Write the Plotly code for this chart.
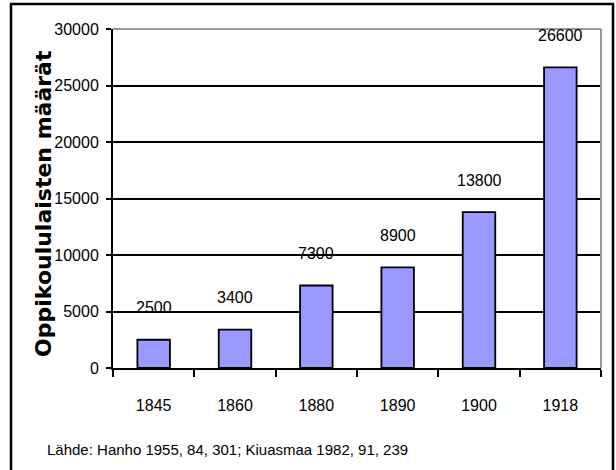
import plotly.graph_objects as go

# Oppikoululaisten määrät vuosittain
years = ["1845", "1860", "1880", "1890", "1900", "1918"]
pupils = [2500, 3400, 7300, 8900, 13800, 26600]
y_ticks = [0, 5000, 10000, 15000, 20000, 25000, 30000]

axis_title = "Oppikoululaisten määrät"
source_note = "Lähde: Hanho 1955, 84, 301; Kiuasmaa 1982, 91, 239"

sans = "Liberation Sans, Arial, sans-serif"

fig = go.Figure()
fig.add_trace(go.Bar(
    x=years,
    y=pupils,
    marker=dict(color="#9999FF", line=dict(color="black", width=1.8)),
    width=0.4,
    hoverinfo="x+y",
))

# value labels sitting above each bar (x given as category index)
for i, val in enumerate(pupils):
    fig.add_annotation(
        x=i, y=val, text=str(val), showarrow=False,
        xanchor="center", yanchor="middle", yshift=32,
        font=dict(family=sans, size=16, color="black"),
    )

# rotated axis title
fig.add_annotation(
    xref="paper", yref="paper", x=-0.1414, y=0.487,
    text="<b>%s</b>" % axis_title, textangle=-90, showarrow=False,
    xanchor="center", yanchor="middle",
    font=dict(family="DejaVu Sans, Verdana, sans-serif", size=22, color="black"),
)

# source line under the chart
fig.add_annotation(
    xref="paper", yref="paper", x=-0.139, y=-0.239,
    text=source_note, showarrow=False, xanchor="left", yanchor="middle",
    font=dict(family=sans, size=15, color="black"),
)

# grey frame on top and right of the plot area
fig.add_shape(type="line", xref="paper", yref="paper", x0=0, x1=1, y0=1, y1=1,
              line=dict(color="#999999", width=2), layer="above")
fig.add_shape(type="line", xref="paper", yref="paper", x0=1, x1=1, y0=0, y1=1,
              line=dict(color="#999999", width=2), layer="above")

# outer black box around the whole chart
fig.add_shape(type="rect", xref="paper", yref="paper",
              x0=-0.209, x1=1.0246, y0=-0.32, y1=1.0737,
              line=dict(color="black", width=2.5), fillcolor="rgba(0,0,0,0)",
              layer="above")

fig.update_xaxes(
    type="category", range=[-0.5, len(years) - 0.5],
    showline=True, linecolor="black", linewidth=2,
    ticks="outside", tickson="boundaries", ticklen=7, tickwidth=1.5, tickcolor="black",
    ticklabelstandoff=22,
    tickfont=dict(family=sans, size=16, color="black"),
    showgrid=False, zeroline=False,
)
fig.update_yaxes(
    range=[0, 30000], tickvals=y_ticks, ticktext=[str(v) for v in y_ticks],
    showline=True, linecolor="black", linewidth=2,
    ticks="outside", ticklen=5, tickwidth=1.5, tickcolor="black",
    ticklabelstandoff=4,
    tickfont=dict(family=sans, size=16, color="black"),
    showgrid=True, gridcolor="black", gridwidth=1.8, zeroline=False,
)

fig.update_layout(
    width=616, height=470,
    margin=dict(l=113, r=15, t=29, b=102),
    paper_bgcolor="white", plot_bgcolor="white",
    showlegend=False,
    bargap=0.6,
)

fig.write_html("out.html")
